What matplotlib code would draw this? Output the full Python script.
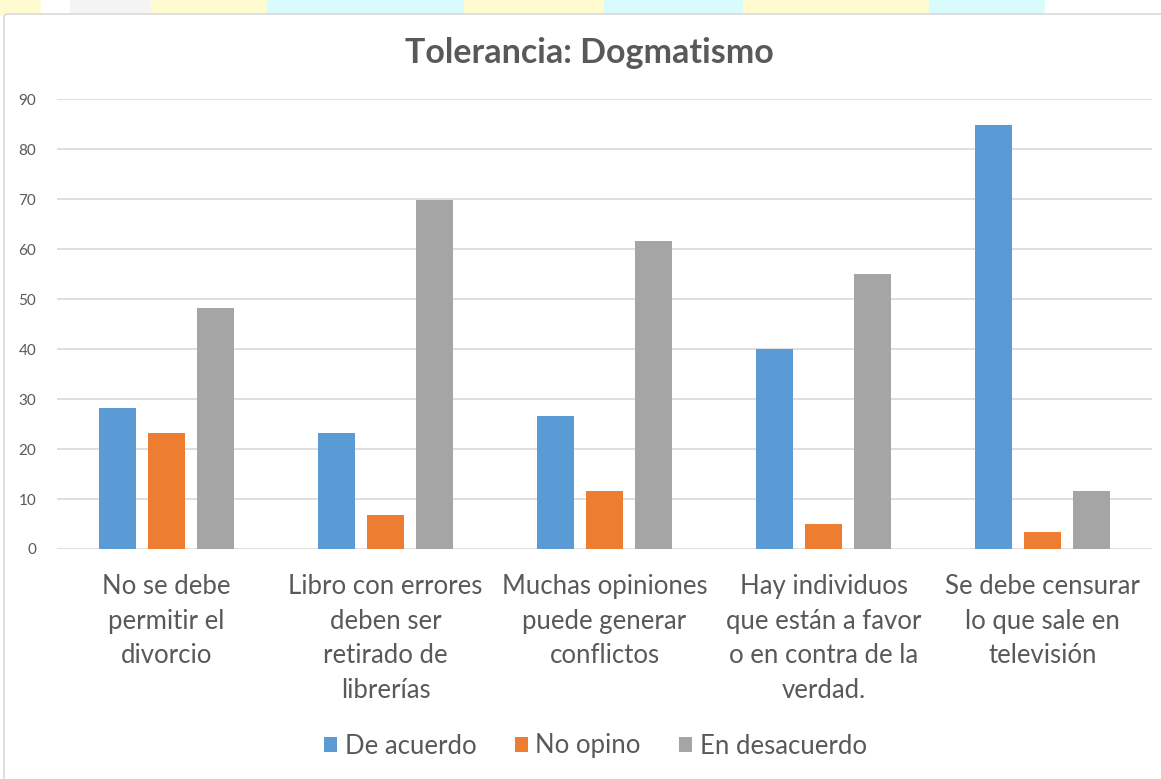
import numpy as np
import matplotlib.pyplot as plt
from matplotlib.patches import Rectangle, FancyBboxPatch

plt.rcParams['font.family'] = ['Lato', 'DejaVu Sans']

# data
categories = ['No se debe\npermitir el\ndivorcio',
              'Libro con errores\ndeben ser\nretirado de\nlibrerías',
              'Muchas opiniones\npuede generar\nconflictos',
              'Hay individuos\nque están a favor\no en contra de la\nverdad.',
              'Se debe censurar\nlo que sale en\ntelevisión']
de_acuerdo = [28.2, 23.2, 26.6, 40.0, 84.8]
no_opino = [23.2, 6.8, 11.6, 5.0, 3.4]
en_desacuerdo = [48.2, 69.8, 61.6, 55.0, 11.6]
series_names = ['De acuerdo', 'No opino', 'En desacuerdo']
colors = ['#5b9bd5', '#ed7d31', '#a5a5a5']
text_col = '#595959'

fig = plt.figure(figsize=(11.61, 7.79), dpi=100)

# watermark-ish background strip at the top
strip = [(0, 0.035, '#fffbd0'), (0.035, 0.06, '#ffffff'), (0.06, 0.13, '#f4f4f4'),
         (0.13, 0.23, '#fffbd0'), (0.23, 0.40, '#d8fbfc'), (0.40, 0.52, '#fffbd0'),
         (0.52, 0.64, '#d8fbfc'), (0.64, 0.80, '#fffbd0'), (0.80, 0.83, '#d8fbfc'),
         (0.83, 0.90, '#d8fbfc'), (0.90, 1.0, '#ffffff')]
for x0, x1, c in strip:
    fig.patches.append(Rectangle((x0, 1 - 15 / 779), x1 - x0, 15 / 779,
                                 transform=fig.transFigure, color=c, zorder=0))
fig.patches.append(FancyBboxPatch((4 / 1161, -0.02), 1.02, 1 - 14 / 779 + 0.02,
                                  boxstyle='round,pad=0,rounding_size=0.004',
                                  transform=fig.transFigure, facecolor='white',
                                  edgecolor='#d9d9d9', lw=1.2, zorder=1))

ax = fig.add_axes([57 / 1161, 1 - 549 / 779, 1095 / 1161, 450 / 779])
ax.set_facecolor('none')
ax.set_zorder(3)

x = np.arange(len(categories))
w = 0.173
step = 0.224
for i, vals in enumerate([de_acuerdo, no_opino, en_desacuerdo]):
    ax.bar(x + (i - 1) * step, vals, width=w, color=colors[i],
           label=series_names[i], zorder=3)

ax.set_xlim(-0.5, len(categories) - 0.5)
ax.set_ylim(0, 90)
ax.set_yticks(range(0, 91, 10))
ax.grid(axis='y', color='#d9d9d9', lw=1.2, zorder=0)
for s in ax.spines.values():
    s.set_visible(False)
ax.tick_params(axis='y', length=0, labelsize=11, labelcolor=text_col, pad=15)
ax.tick_params(axis='x', length=0, labelsize=18.5, labelcolor=text_col, pad=18)
ax.set_xticks(x)
ax.set_xticklabels(categories, linespacing=1.48)

fig.text(0.508, 1 - 53 / 779, 'Tolerancia: Dogmatismo', ha='center', va='center',
         fontsize=24.5, fontweight='bold', color=text_col)

leg = fig.legend(loc='center', bbox_to_anchor=(0.513, 1 - 746 / 779), ncol=3,
                 frameon=False, fontsize=18.5, handlelength=0.5, handleheight=0.5,
                 handletextpad=0.3, columnspacing=1.5)
for t in leg.get_texts():
    t.set_color(text_col)

fig.savefig('out.png', dpi=100)
